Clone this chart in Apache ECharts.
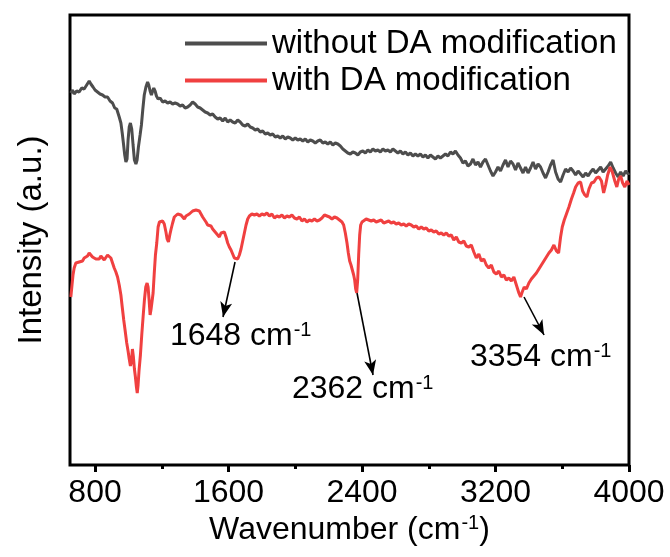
<!DOCTYPE html>
<html>
<head>
<meta charset="utf-8">
<script src="https://cdn.jsdelivr.net/npm/echarts@6/dist/echarts.min.js"></script>
<style>
html,body{margin:0;padding:0;background:#fff;}
#chart{width:670px;height:557px;}
</style>
</head>
<body>
<div id="chart"></div>
<script>
// ---------- data ----------
const seriesNames = ['without DA modification', 'with DA modification'];
const xTicks = [800, 1600, 2400, 3200, 4000];
const xMinorTicks = [1200, 2000, 2800, 3600];

const grayX = [655,665,675,690,705,720,735,750,765,775,788,800,815,830,845,860,875,890,905,918,930,945,955,963,970,978,985,992,998,1005,1012,1020,1028,1036,1045,1052,1060,1070,1078,1086,1095,1105,1115,1122,1130,1138,1145,1152,1160,1168,1178,1190,1205,1220,1235,1250,1265,1280,1295,1310,1325,1340,1355,1370,1385,1400,1415,1430,1445,1460,1475,1490,1505,1520,1535,1550,1565,1580,1595,1610,1625,1640,1655,1670,1685,1700,1715,1730,1745,1760,1775,1790,1805,1820,1835,1850,1865,1880,1895,1910,1925,1940,1955,1970,1985,2000,2015,2030,2045,2060,2075,2090,2105,2120,2135,2150,2165,2180,2195,2210,2225,2240,2255,2270,2285,2300,2315,2330,2345,2360,2375,2390,2405,2420,2435,2450,2465,2480,2495,2510,2525,2540,2555,2570,2585,2600,2615,2630,2645,2660,2675,2690,2705,2720,2735,2750,2765,2780,2795,2810,2825,2840,2855,2870,2885,2900,2915,2930,2945,2960,2975,2990,3005,3020,3035,3050,3065,3080,3095,3110,3125,3140,3155,3170,3185,3200,3215,3230,3245,3260,3275,3290,3305,3320,3335,3350,3365,3380,3395,3410,3425,3440,3455,3470,3485,3500,3515,3530,3545,3560,3575,3590,3605,3620,3635,3650,3665,3680,3695,3710,3725,3740,3755,3770,3785,3800,3815,3830,3845,3860,3875,3890,3905,3920,3935,3950,3965,3980,3995,4000];
const grayY = [372,375,371,374,373,377,376,380,384,381,378,375,373,371,370,368,368,364,362,357,356,348,342,332,322,310,303,306,325,338,342,336,320,305,301,305,318,330,340,355,370,378,383,380,374,370,374,377,374,369,366,367,363,364,362,363,361,362,361,359,360,357,358,360,363,361,358,357,355,353,352,350,351,348,346,347,344,347,343,345,343,342,345,343,340,339,341,338,337,335,336,333,334,331,332,330,331,328,329,327,329,326,328,327,325,327,325,326,324,326,323,325,324,322,324,325,322,323,321,323,320,322,321,319,316,314,312,311,313,312,310,313,314,312,315,313,316,314,315,313,316,314,315,313,316,314,312,314,311,313,310,312,309,311,309,311,308,310,307,310,308,306,309,307,309,311,309,313,311,314,310,307,302,304,299,301,306,300,303,298,303,306,300,294,289,293,298,294,300,305,298,304,301,295,302,297,292,298,292,297,303,296,301,298,292,287,293,300,305,293,286,283,290,296,293,297,294,290,294,291,288,292,289,293,296,292,295,298,293,296,299,303,297,292,288,293,289,294,291,292];

const redX = [655,662,668,675,685,695,705,715,725,735,745,755,765,775,785,795,805,815,825,835,845,855,865,875,885,895,905,915,925,935,945,955,963,972,980,990,998,1005,1012,1018,1024,1030,1036,1042,1048,1053,1058,1064,1072,1080,1088,1096,1104,1112,1118,1124,1130,1136,1142,1148,1155,1162,1170,1178,1186,1195,1205,1215,1225,1232,1240,1248,1256,1265,1275,1285,1295,1305,1315,1325,1335,1345,1355,1365,1375,1385,1395,1405,1415,1425,1435,1445,1455,1465,1475,1485,1495,1505,1515,1525,1535,1545,1555,1565,1575,1585,1595,1605,1615,1625,1635,1645,1655,1665,1675,1685,1695,1705,1715,1725,1740,1755,1770,1785,1800,1815,1830,1845,1860,1875,1890,1905,1920,1935,1950,1965,1980,1995,2010,2025,2040,2055,2070,2085,2100,2115,2130,2145,2160,2175,2190,2205,2220,2235,2250,2265,2280,2290,2300,2310,2318,2326,2334,2342,2350,2356,2362,2368,2374,2380,2386,2392,2400,2410,2425,2440,2455,2470,2485,2500,2515,2530,2545,2560,2575,2590,2605,2620,2635,2650,2665,2680,2695,2710,2725,2740,2755,2770,2785,2800,2815,2830,2845,2860,2875,2890,2905,2920,2935,2950,2965,2980,2995,3010,3025,3040,3055,3070,3085,3100,3115,3130,3145,3160,3175,3190,3205,3220,3235,3250,3265,3280,3295,3310,3325,3340,3350,3360,3372,3385,3400,3415,3430,3445,3460,3475,3490,3505,3520,3535,3550,3565,3578,3590,3600,3612,3625,3640,3655,3668,3680,3695,3710,3722,3735,3748,3760,3775,3790,3805,3820,3835,3848,3860,3872,3887,3900,3915,3927,3938,3950,3962,3975,3988,4000];
const redY = [168,180,190,197,202,204,203,205,204,207,206,209,212,210,208,207,206,208,206,209,207,205,207,210,210,207,202,197,193,188,180,170,158,145,135,122,114,106,99,103,116,108,96,88,78,72,80,95,110,130,148,165,178,182,178,165,150,156,164,172,192,210,222,238,243,243,244,241,233,226,223,230,236,242,248,249,251,253,250,248,246,249,248,251,252,254,252,255,257,254,251,248,246,243,240,238,239,236,235,232,230,228,232,231,233,228,222,218,215,211,207,205,206,210,216,224,232,240,246,249,251,250,251,249,251,250,252,249,251,247,249,248,250,247,249,248,250,247,246,248,244,246,243,245,244,246,244,245,247,250,249,248,246,248,247,245,243,240,232,222,212,204,200,195,190,185,176,172,185,210,230,240,243,245,246,245,244,245,243,244,245,242,243,244,242,243,241,242,240,241,239,241,240,238,239,236,238,236,237,234,235,233,234,231,232,230,232,229,230,225,228,223,222,224,219,218,220,213,207,211,204,206,200,197,200,193,191,194,188,190,185,187,184,188,180,172,168,173,178,176,182,186,189,192,196,200,204,208,212,215,220,214,212,228,238,245,251,258,266,272,278,282,283,274,270,268,276,282,283,287,288,284,272,280,290,298,293,284,278,286,289,282,278,284,280];

// annotations: peak labels, arrow start (near peak) and end (toward label), label anchor (left, middle)
const peakLabels = ['1648', '2362', '3354'];
const arrowFrom = [[1639, 203], [2370, 172], [3371, 168]];
const arrowTo   = [[1567, 148], [2466, 90],  [3491, 130]];
const labelAt   = [[1249, 129], [1980, 76],  [3047, 108]];

// ---------- chart ----------
const FONT = "'Liberation Sans', Arial, sans-serif";
const zip = (xs, ys) => xs.map((x, i) => [x, ys[i]]);

const chart = echarts.init(document.getElementById('chart'), null, {renderer: 'canvas'});

const supRich = {
  b: {fontSize: 32, fontFamily: FONT, color: '#000'},
  s: {fontSize: 20, fontFamily: FONT, color: '#000', verticalAlign: 'top', padding: [0, 0, 0, 1]}
};

chart.setOption({
  animation: false,
  backgroundColor: '#fff',
  grid: {left: 70, right: 41, top: 15, bottom: 92, show: true, borderColor: '#000', borderWidth: 3, backgroundColor: 'transparent'},
  legend: {
    orient: 'vertical',
    left: 180, top: 22,
    itemWidth: 82, itemHeight: 4, itemGap: 4,
    icon: 'rect',
    textStyle: {fontSize: 33, fontFamily: FONT, color: '#000'},
    data: seriesNames
  },
  xAxis: [{
    type: 'value', min: 650, max: 4000,
    axisLine: {show: false},
    splitLine: {show: false},
    axisTick: {show: true, inside: false, length: 7, lineStyle: {color: '#000', width: 3}, customValues: xTicks},
    axisLabel: {show: true, fontSize: 32, fontFamily: FONT, color: '#000', margin: 12, customValues: xTicks,
      formatter: v => String(v)},
    name: '{b|Wavenumber (cm}{s|-1}{b|)}',
    nameLocation: 'middle', nameGap: 46,
    nameTextStyle: {rich: supRich}
  }, {
    type: 'value', min: 650, max: 4000, position: 'bottom',
    axisLine: {show: false}, splitLine: {show: false},
    axisTick: {show: true, length: 4, lineStyle: {color: '#000', width: 3}, customValues: xMinorTicks},
    axisLabel: {show: false}
  }],
  yAxis: {
    type: 'value', min: 0, max: 450,
    axisLine: {show: false}, axisTick: {show: false}, axisLabel: {show: false}, splitLine: {show: false},
    name: 'Intensity (a.u.)', nameLocation: 'middle', nameGap: 22,
    nameTextStyle: {fontSize: 33, fontFamily: FONT, color: '#000'}
  },
  series: [{
    name: seriesNames[0], type: 'line', data: zip(grayX, grayY),
    showSymbol: false, symbol: 'none', color: '#4d4d4d',
    lineStyle: {color: '#4d4d4d', width: 3}
  }, {
    name: seriesNames[1], type: 'line', data: zip(redX, redY),
    showSymbol: false, symbol: 'none', color: '#f04040',
    lineStyle: {color: '#f04040', width: 3},
    markLine: {
      silent: true, animation: false,
      symbol: ['none', 'arrow'], symbolSize: [9, 15],
      label: {show: false},
      lineStyle: {color: '#000', width: 1.6, type: 'solid'},
      data: arrowFrom.map((p, i) => [{coord: p}, {coord: arrowTo[i]}])
    },
    markPoint: {
      silent: true, animation: false, symbol: 'circle', symbolSize: 0,
      itemStyle: {color: 'transparent'},
      label: {show: true, position: 'right', distance: 0,
        formatter: p => '{b|' + p.name + ' cm}{s|-1}', rich: supRich},
      data: labelAt.map((p, i) => ({name: peakLabels[i], coord: p}))
    }
  }]
});
</script>
</body>
</html>
